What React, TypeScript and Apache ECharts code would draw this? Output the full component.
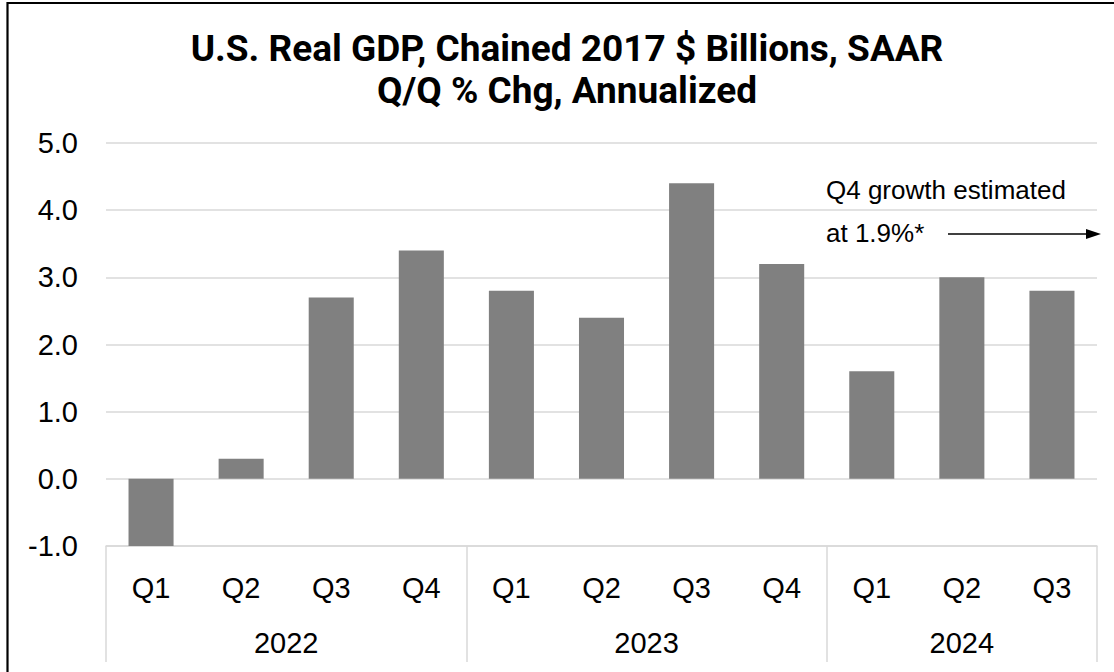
import React, { useEffect, useRef } from "react";
import * as echarts from "echarts";

const quarters = ["Q1", "Q2", "Q3", "Q4", "Q1", "Q2", "Q3", "Q4", "Q1", "Q2", "Q3"];
const gdpGrowth = [-1.0, 0.3, 2.7, 3.4, 2.8, 2.4, 4.4, 3.2, 1.6, 3.0, 2.8];
const years = ["2022", "2023", "2024"];
const yearCenters = [2, 6, 9.5];
const yearBoundaries = [0, 4, 8, 11];
const yTicks = { min: -1, max: 5, interval: 1 };
const titleLines = ["U.S. Real GDP, Chained 2017 $ Billions, SAAR", "Q/Q % Chg, Annualized"];
const noteLines = ["Q4 growth estimated", "at 1.9%*"];

export default function App() {
  const ref = useRef<HTMLDivElement>(null);
  useEffect(() => {
    if (!ref.current) return;
    const chart = echarts.init(ref.current, undefined, { renderer: "svg" });
    const grid = "#d9d9d9";
    const font = "'Liberation Sans', Arial, sans-serif";
    const titleStyle = {
      fontFamily: "Roboto, 'Liberation Sans', sans-serif",
      fontWeight: "bold",
      fontSize: 37,
      fill: "#000",
      textAlign: "center",
      textVerticalAlign: "middle",
    };
    chart.setOption({
      animation: false,
      backgroundColor: "#fff",
      grid: { left: 106, right: 17, top: 143, bottom: 126, containLabel: false },
      xAxis: [
        {
          type: "category",
          data: quarters,
          position: "bottom",
          axisLine: { show: false },
          axisTick: { show: false },
          axisLabel: { color: "#000", fontFamily: font, fontSize: 29, margin: 27 },
        },
        {
          type: "value",
          min: 0,
          max: 11,
          position: "bottom",
          axisLine: { show: true, onZero: false, lineStyle: { color: grid, width: 1.5 } },
          axisTick: { show: true, customValues: yearBoundaries, length: 116, lineStyle: { color: grid, width: 1.5 } },
          splitLine: { show: false },
          axisLabel: {
            customValues: yearCenters,
            formatter: (v: number) => years[yearCenters.indexOf(v)] ?? "",
            color: "#000",
            fontFamily: font,
            fontSize: 29,
            margin: 82,
          },
        },
      ],
      yAxis: {
        type: "value",
        min: yTicks.min,
        max: yTicks.max,
        interval: yTicks.interval,
        axisLine: { show: false },
        axisTick: { show: false },
        splitLine: { lineStyle: { color: grid, width: 1.5 } },
        axisLabel: {
          color: "#000",
          fontFamily: font,
          fontSize: 29,
          margin: 28,
          formatter: (v: number) => v.toFixed(1),
        },
      },
      series: [
        {
          type: "bar",
          data: gdpGrowth,
          xAxisIndex: 0,
          barWidth: "50%",
          itemStyle: { color: "#808080" },
        },
      ],
      graphic: [
        {
          type: "rect",
          shape: { x: 7.5, y: 3, width: 1300, height: 900 },
          style: { fill: "none", stroke: "#000", lineWidth: 2.2 },
          silent: true,
        },
        { type: "text", x: 567, y: 48, style: { ...titleStyle, text: titleLines[0] } },
        { type: "text", x: 567, y: 90, style: { ...titleStyle, text: titleLines[1] } },
        {
          type: "text",
          x: 826,
          y: 190,
          style: { text: noteLines[0], fontFamily: font, fontSize: 26, fill: "#000", textVerticalAlign: "middle" },
        },
        {
          type: "text",
          x: 826,
          y: 233,
          style: { text: noteLines[1], fontFamily: font, fontSize: 26, fill: "#000", textVerticalAlign: "middle" },
        },
        {
          type: "line",
          shape: { x1: 948, y1: 234, x2: 1088, y2: 234 },
          style: { stroke: "#000", lineWidth: 1.5 },
        },
        {
          type: "polygon",
          shape: { points: [[1086, 229], [1101, 234], [1086, 239]] },
          style: { fill: "#000" },
        },
      ],
    });
    return () => chart.dispose();
  }, []);
  return (
    <div
      ref={ref}
      style={{ position: "absolute", left: 0, top: 0, width: 1114, height: 672 }}
    />
  );
}
